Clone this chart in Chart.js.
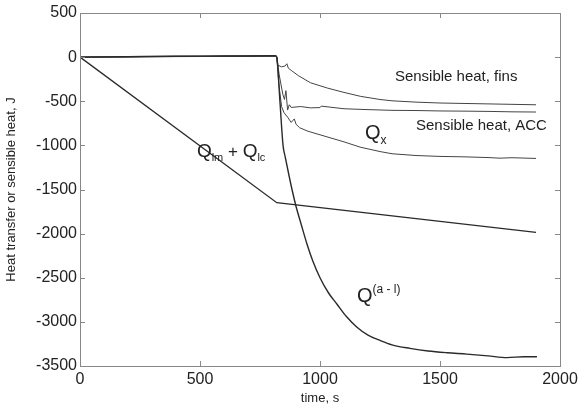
<!DOCTYPE html>
<html>
<head>
<meta charset="utf-8">
<script src="https://cdn.jsdelivr.net/npm/chart.js@4.4.1/dist/chart.umd.min.js"></script>
<style>
html,body{margin:0;padding:0;background:#fff;}
#wrap{width:582px;height:408px;}
</style>
</head>
<body>
<div id="wrap"><canvas id="c" width="582" height="408"></canvas></div>
<script>
// ---- data ----
const xTicks = [0, 500, 1000, 1500, 2000];
const yTicks = [500, 0, -500, -1000, -1500, -2000, -2500, -3000, -3500];

const qlTime = [0, 820, 1900];
const qlVals = [0, -1650, -1985];

const qalTime = [0, 200, 400, 600, 815, 820, 833, 846, 855, 870, 885, 900, 920, 946, 970, 1000, 1035, 1071, 1110, 1154, 1200, 1250, 1300, 1375, 1450, 1530, 1612, 1700, 1779, 1850, 1904];
const qalVals = [0, 5, 10, 12, 15, 0, -500, -1000, -1130, -1330, -1520, -1690, -1880, -2120, -2310, -2500, -2670, -2800, -2940, -3060, -3150, -3210, -3260, -3300, -3330, -3350, -3365, -3385, -3405, -3395, -3395];

const finsTime = [0, 400, 815, 820, 823, 840, 855, 862, 868, 880, 910, 960, 1030, 1100, 1170, 1250, 1300, 1400, 1500, 1600, 1700, 1800, 1900];
const finsVals = [0, 10, 15, 0, -90, -110, -100, -75, -125, -150, -210, -290, -350, -400, -445, -480, -495, -510, -520, -525, -530, -535, -540];

const accTime = [0, 400, 815, 820, 830, 845, 852, 858, 865, 872, 880, 920, 960, 1000, 1005, 1100, 1200, 1300, 1400, 1500, 1600, 1700, 1800, 1900];
const accVals = [0, 8, 12, 0, -200, -420, -480, -380, -600, -540, -570, -560, -575, -572, -555, -585, -595, -603, -605, -610, -612, -615, -620, -622];

const qxTime = [0, 400, 815, 820, 828, 840, 850, 865, 880, 893, 900, 915, 950, 1000, 1050, 1100, 1167, 1250, 1300, 1400, 1500, 1600, 1700, 1750, 1800, 1900];
const qxVals = [0, 6, 10, 0, -300, -560, -630, -680, -740, -700, -760, -800, -840, -880, -920, -960, -1020, -1070, -1095, -1115, -1125, -1130, -1138, -1145, -1140, -1148];

// annotation anchors in data units
const notes = [
  {t: 1312, v: -227, parts: [["Sensible heat, fins", 15, 0]]},
  {t: 1400, v: -782, parts: [["Sensible heat, ACC", 15, 0]]},
  {t: 1187, v: -862, parts: [["Q", 20, 0], ["x", 12, 7]]},
  {t: 487, v: -1077, parts: [["Q", 19, 0], ["lm", 11, 6], [" + ", 17, 0], ["Q", 19, 0], ["lc", 11, 6]]},
  {t: 1154, v: -2710, parts: [["Q", 20, 0], ["(a - l)", 12, -7]]}
];

const toPts = (ts, vs) => ts.map((t, i) => ({x: t, y: vs[i]}));
const mk = (ts, vs, w, col, smooth) => ({data: toPts(ts, vs), borderColor: col, borderWidth: w, pointRadius: 0, tension: 0, cubicInterpolationMode: smooth ? 'monotone' : 'default', fill: false});

const FONT = "'Liberation Sans', Arial, sans-serif";

const framePlugin = {
  id: 'frame',
  afterDraw(chart) {
    const {ctx, chartArea: a, scales: {x, y}} = chart;
    ctx.save();
    ctx.strokeStyle = '#888';
    ctx.lineWidth = 1;
    ctx.strokeRect(a.left + 0.5, a.top + 0.5, a.right - a.left, a.bottom - a.top);
    ctx.beginPath();
    xTicks.forEach(t => {
      const px = Math.round(x.getPixelForValue(t)) + 0.5;
      ctx.moveTo(px, a.bottom); ctx.lineTo(px, a.bottom - 5);
      ctx.moveTo(px, a.top); ctx.lineTo(px, a.top + 5);
    });
    yTicks.forEach(v => {
      const py = Math.round(y.getPixelForValue(v)) + 0.5;
      ctx.moveTo(a.left, py); ctx.lineTo(a.left + 5, py);
      ctx.moveTo(a.right, py); ctx.lineTo(a.right - 5, py);
    });
    ctx.stroke();
    // annotations
    ctx.fillStyle = '#222';
    ctx.textBaseline = 'middle';
    notes.forEach(n => {
      let px = x.getPixelForValue(n.t);
      const py = y.getPixelForValue(n.v);
      n.parts.forEach(([s, size, dy]) => {
        ctx.font = size + 'px ' + FONT;
        ctx.fillText(s, px, py + dy);
        px += ctx.measureText(s).width;
      });
    });
    ctx.restore();
  }
};

new Chart(document.getElementById('c'), {
  type: 'line',
  data: {
    datasets: [
      mk(qlTime, qlVals, 1.3, '#2a2a2a', false),
      mk(qalTime, qalVals, 1.4, '#2a2a2a', true),
      mk(finsTime, finsVals, 1, '#444', false),
      mk(accTime, accVals, 1, '#444', false),
      mk(qxTime, qxVals, 1, '#444', false)
    ]
  },
  options: {
    responsive: false,
    animation: false,
    devicePixelRatio: 1,
    layout: {padding: {top: 13, right: 22, bottom: 0, left: 0}},
    plugins: {legend: {display: false}, tooltip: {enabled: false}},
    scales: {
      x: {
        type: 'linear', min: 0, max: 2000,
        afterBuildTicks: s => { s.ticks = xTicks.map(v => ({value: v})); },
        afterFit: s => { s.height = 42; },
        grid: {display: false, drawTicks: false},
        border: {display: false},
        ticks: {font: {size: 16, family: FONT}, color: '#222', padding: 4, maxRotation: 0, callback: v => String(v)},
        title: {display: true, text: 'time, s', font: {size: 13, family: FONT}, color: '#222', padding: {top: 0, bottom: 2}}
      },
      y: {
        type: 'linear', min: -3500, max: 500,
        afterBuildTicks: s => { s.ticks = yTicks.map(v => ({value: v})); },
        afterFit: s => { s.width = 80; },
        grid: {display: false, drawTicks: false},
        border: {display: false},
        ticks: {font: {size: 16, family: FONT}, color: '#222', padding: 3, callback: v => String(v)},
        title: {display: true, text: 'Heat transfer or sensible heat, J', font: {size: 13, family: FONT}, color: '#222', padding: {top: 4, bottom: 0}}
      }
    }
  },
  plugins: [framePlugin]
});
</script>
</body>
</html>
